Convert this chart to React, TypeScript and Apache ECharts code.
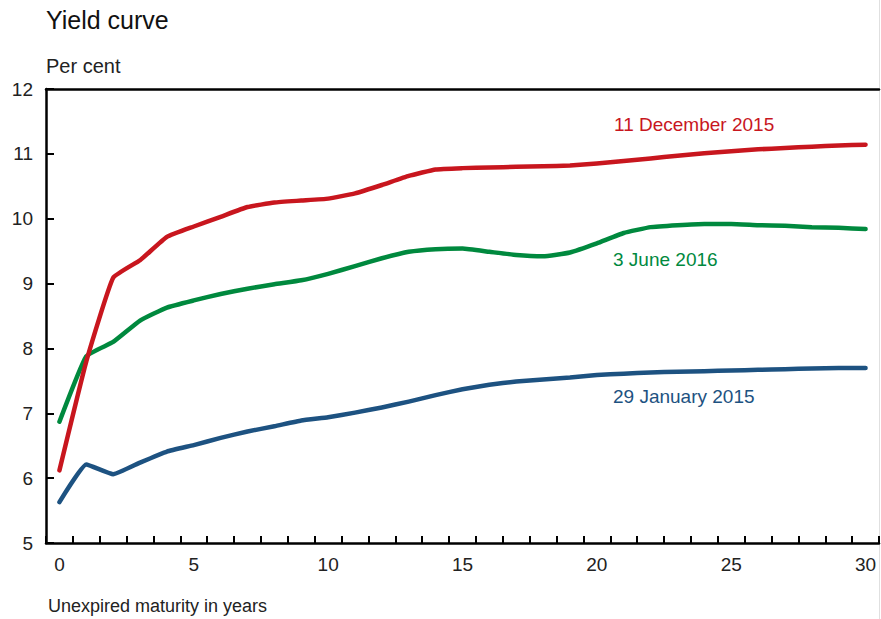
import React, { useEffect, useRef } from "react";
import * as echarts from "echarts";

const maturities = Array.from({ length: 31 }, (_, i) => String(i));

const dec2015 = [6.12, 7.8, 9.09, 9.36, 9.72, 9.88, 10.03, 10.18, 10.25, 10.28, 10.31, 10.39, 10.52, 10.66, 10.76, 10.78, 10.79, 10.8, 10.81, 10.82, 10.85, 10.89, 10.93, 10.97, 11.01, 11.04, 11.07, 11.09, 11.11, 11.13, 11.14];
const jun2016 = [6.87, 7.88, 8.1, 8.43, 8.63, 8.74, 8.84, 8.92, 8.99, 9.05, 9.15, 9.27, 9.39, 9.49, 9.53, 9.54, 9.49, 9.44, 9.42, 9.48, 9.62, 9.78, 9.87, 9.9, 9.92, 9.92, 9.9, 9.89, 9.87, 9.86, 9.84];
const jan2015 = [5.63, 6.21, 6.06, 6.24, 6.41, 6.51, 6.62, 6.72, 6.8, 6.89, 6.94, 7.01, 7.09, 7.18, 7.28, 7.37, 7.44, 7.49, 7.52, 7.55, 7.59, 7.61, 7.63, 7.64, 7.65, 7.66, 7.67, 7.68, 7.69, 7.7, 7.7];

const FONT = "Liberation Sans";
const RED = "#c8161e";
const GREEN = "#00893e";
const BLUE = "#1d5281";

export default function App() {
  const ref = useRef<HTMLDivElement>(null);
  useEffect(() => {
    if (!ref.current) return;
    const chart = echarts.init(ref.current, null, { renderer: "svg" });
    const mk = (name: string, data: number[], color: string) => ({
      name,
      type: "line",
      data,
      smooth: 0.12,
      symbol: "none",
      lineStyle: { color, width: 4.5, cap: "round", join: "round" },
      z: 3,
    });
    chart.setOption({
      animation: false,
      backgroundColor: "#ffffff",
      textStyle: { fontFamily: FONT },
      grid: { left: 46, right: 2, top: 89, bottom: 76, containLabel: false },
      xAxis: [
        {
          type: "category",
          data: maturities,
          boundaryGap: true,
          axisLine: { lineStyle: { color: "#000", width: 2.5 } },
          axisTick: { show: true, inside: true, length: 7, interval: 0, lineStyle: { color: "#000", width: 2 } },
          axisLabel: { interval: 4, margin: 12, fontSize: 19, color: "#222", fontFamily: FONT },
          splitLine: { show: false },
        },
        {
          type: "category",
          position: "top",
          data: maturities,
          axisLine: { lineStyle: { color: "#000", width: 2.5 } },
          axisTick: { show: false },
          axisLabel: { show: false },
        },
      ],
      yAxis: {
        type: "value",
        min: 5,
        max: 12,
        interval: 1,
        axisLine: { show: true, lineStyle: { color: "#000", width: 2.5 } },
        axisTick: { show: true, inside: true, length: 8, lineStyle: { color: "#000", width: 2 } },
        axisLabel: { margin: 13, fontSize: 19, color: "#222", fontFamily: FONT },
        splitLine: { show: false },
      },
      series: [
        mk("29 January 2015", jan2015, BLUE),
        mk("3 June 2016", jun2016, GREEN),
        mk("11 December 2015", dec2015, RED),
      ],
      graphic: [
        { type: "text", left: 46, top: 7, style: { text: "Yield curve", font: `25px ${FONT}`, fill: "#111" } },
        { type: "text", left: 46, top: 56, style: { text: "Per cent", font: `20px ${FONT}`, fill: "#222" } },
        { type: "text", left: 48, top: 597, style: { text: "Unexpired maturity in years", font: `18px ${FONT}`, fill: "#222" } },
        { type: "text", left: 614, top: 115, style: { text: "11 December 2015", font: `19px ${FONT}`, fill: RED } },
        { type: "text", left: 613, top: 250, style: { text: "3 June 2016", font: `19px ${FONT}`, fill: GREEN } },
        { type: "text", left: 613, top: 387, style: { text: "29 January 2015", font: `19px ${FONT}`, fill: BLUE } },
        { type: "line", shape: { x1: 879.5, y1: 0, x2: 879.5, y2: 619 }, style: { stroke: "#e0e0e0", lineWidth: 1 } },
      ],
    });
    return () => chart.dispose();
  }, []);
  return <div ref={ref} style={{ width: 881, height: 619, position: "absolute", left: 0, top: 0 }} />;
}
